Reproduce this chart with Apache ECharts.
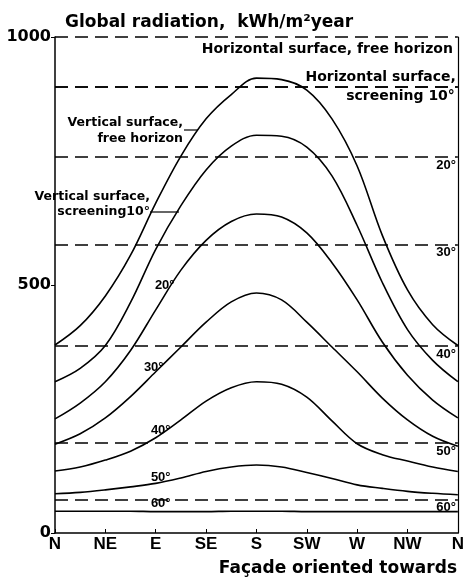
<!DOCTYPE html>
<html>
<head>
<meta charset="utf-8">
<script src="https://cdn.jsdelivr.net/npm/echarts@6/dist/echarts.min.js"></script>
<style>
  html, body { margin: 0; padding: 0; background: #fff; }
  #chart { width: 467px; height: 579px; }
</style>
</head>
<body>
<div id="chart"></div>
<script>
// facade orientation: tick labels and reading positions (half steps between directions)
const directions = ['N', 'NE', 'E', 'SE', 'S', 'SW', 'W', 'NW', 'N'];
const positions = [0, 0.5, 1, 1.5, 2, 2.5, 3, 3.5, 4, 4.5, 5, 5.5, 6, 6.5, 7, 7.5, 8];
const yTicks = [0, 500, 1000];

// vertical surface, kWh/m2 year, by screening angle
const vertFree = [379, 418, 478, 560, 665, 760, 835, 884, 917, 914, 893, 835, 740, 600, 490, 420, 378];
const vert10 = [305, 332, 378, 465, 572, 660, 732, 780, 802, 800, 778, 720, 620, 505, 410, 348, 305];
const vert20 = [230, 262, 305, 368, 450, 530, 590, 628, 643, 637, 605, 545, 470, 385, 318, 268, 232];
const vert30 = [179, 200, 232, 275, 325, 375, 425, 466, 484, 470, 425, 375, 325, 272, 228, 195, 175];
const vert40 = [125, 133, 147, 165, 192, 228, 266, 293, 305, 300, 274, 226, 180, 158, 145, 133, 124];
const vert50 = [79, 82, 87, 93, 100, 111, 124, 133, 137, 133, 122, 110, 97, 90, 84, 80, 77];
const vert60 = [44, 44, 44, 44, 43, 43, 43, 44, 44, 44, 43, 43, 43, 43, 43, 43, 43];

// horizontal surface levels (free horizon, 10..60 deg)
const horizLevels = [1000, 900, 758, 582, 377, 182, 68];
const horizNames = ['Horizontal surface, free horizon', 'Horizontal surface,', '20°', '30°', '40°', '50°', '60°'];

const FONT = 'Liberation Sans, Arial, sans-serif';
const WIDE = 'DejaVu Sans, sans-serif';
const chart = echarts.init(document.getElementById('chart'));

// pair positions with values, label the point at E
function points(values, text, offset) {
    return values.map((v, i) => {
        if (text && positions[i] === 2) {
            return {
                value: [positions[i], v],
                label: {
                    show: true, formatter: text, position: 'inside', offset: offset,
                    color: '#000', fontWeight: 'bold', fontSize: 13, fontFamily: FONT
                }
            };
        }
        return [positions[i], v];
    });
}

function curve(name, data) {
    return {
        name: name,
        type: 'line',
        data: data,
        smooth: 0.35,
        symbol: 'circle',
        symbolSize: 0,
        showSymbol: true,
        itemStyle: { color: '#000' },
        lineStyle: { color: '#000', width: 1.6 },
        z: 3
    };
}

const lineMarks = horizLevels.map((v, i) => ({
    yAxis: v,
    label: {
        formatter: horizNames[i],
        position: i === 1 ? 'insideEndTop' : 'insideEndBottom',
        distance: i === 0 ? 5 : 2,
        fontSize: i < 2 ? 14 : 13,
        fontFamily: i < 2 ? WIDE : FONT
    }
}));
// second line of the 10 deg label sits under the same line
lineMarks.push({
    yAxis: horizLevels[1],
    label: { formatter: 'screening 10°', position: 'insideEndBottom', distance: 3, fontSize: 14, fontFamily: WIDE }
});

const option = {
    animation: false,
    backgroundColor: '#fff',
    title: [
        {
            text: 'Global radiation,  kWh/m²year',
            left: 60, top: 9,
            textStyle: { color: '#000', fontSize: 17, fontWeight: 'bold', fontFamily: WIDE }
        },
        {
            text: 'Façade oriented towards',
            right: 5, top: 555,
            textStyle: { color: '#000', fontSize: 17, fontWeight: 'bold', fontFamily: WIDE }
        }
    ],
    grid: { left: 55, right: 5, top: 37, bottom: 46 },
    xAxis: {
        type: 'value',
        min: 0,
        max: directions.length - 1,
        interval: 1,
        axisLine: { lineStyle: { color: '#000', width: 1.5 } },
        axisTick: { show: true, inside: true, length: 4, lineStyle: { color: '#000' } },
        axisLabel: {
            color: '#000', fontSize: 17, fontWeight: 'bold', fontFamily: FONT, margin: 3,
            formatter: v => directions[v]
        },
        splitLine: { show: false }
    },
    yAxis: [
        {
            type: 'value',
            min: yTicks[0],
            max: yTicks[yTicks.length - 1],
            interval: yTicks[1] - yTicks[0],
            axisLine: { show: true, lineStyle: { color: '#000', width: 1.5 } },
            axisTick: { show: true, length: 4, lineStyle: { color: '#000' } },
            axisLabel: {
                color: '#000', fontSize: 16, fontWeight: 'bold', fontFamily: WIDE, margin: 4,
                formatter: v => String(v)
            },
            splitLine: { show: false }
        },
        {
            type: 'value',
            position: 'right',
            min: yTicks[0],
            max: yTicks[yTicks.length - 1],
            axisLine: { show: true, lineStyle: { color: '#000', width: 1.2 } },
            axisTick: { show: false },
            axisLabel: { show: false },
            splitLine: { show: false }
        }
    ],
    series: [
        {
            name: 'horizontal',
            type: 'line',
            data: [],
            markLine: {
                silent: true,
                symbol: ['none', 'none'],
                lineStyle: { color: '#000', type: [13, 7], width: 1.5 },
                label: { color: '#000', fontWeight: 'bold' },
                data: lineMarks
            }
        },
        curve('free horizon', points(vertFree)),
        curve('10°', points(vert10)),
        curve('20°', points(vert20, '20°', [9, -24])),
        curve('30°', points(vert30, '30°', [-2, -4])),
        curve('40°', points(vert40, '40°', [5, -7])),
        curve('50°', points(vert50, '50°', [5, -6])),
        curve('60°', points(vert60, '60°', [5, -8]))
    ],
    graphic: [
        {
            type: 'text', x: 183, y: 115,
            style: {
                text: 'Vertical surface,\nfree horizon', textAlign: 'right',
                fill: '#000', font: 'bold 12.5px ' + WIDE, lineHeight: 16
            }
        },
        { type: 'line', shape: { x1: 184, y1: 130, x2: 198, y2: 130 }, style: { stroke: '#000', lineWidth: 1.2 } },
        {
            type: 'text', x: 150, y: 189,
            style: {
                text: 'Vertical surface,\nscreening10°', textAlign: 'right',
                fill: '#000', font: 'bold 12.5px ' + WIDE, lineHeight: 15
            }
        },
        { type: 'line', shape: { x1: 150, y1: 212, x2: 179, y2: 212 }, style: { stroke: '#000', lineWidth: 1.2 } }
    ]
};

chart.setOption(option);
</script>
</body>
</html>
